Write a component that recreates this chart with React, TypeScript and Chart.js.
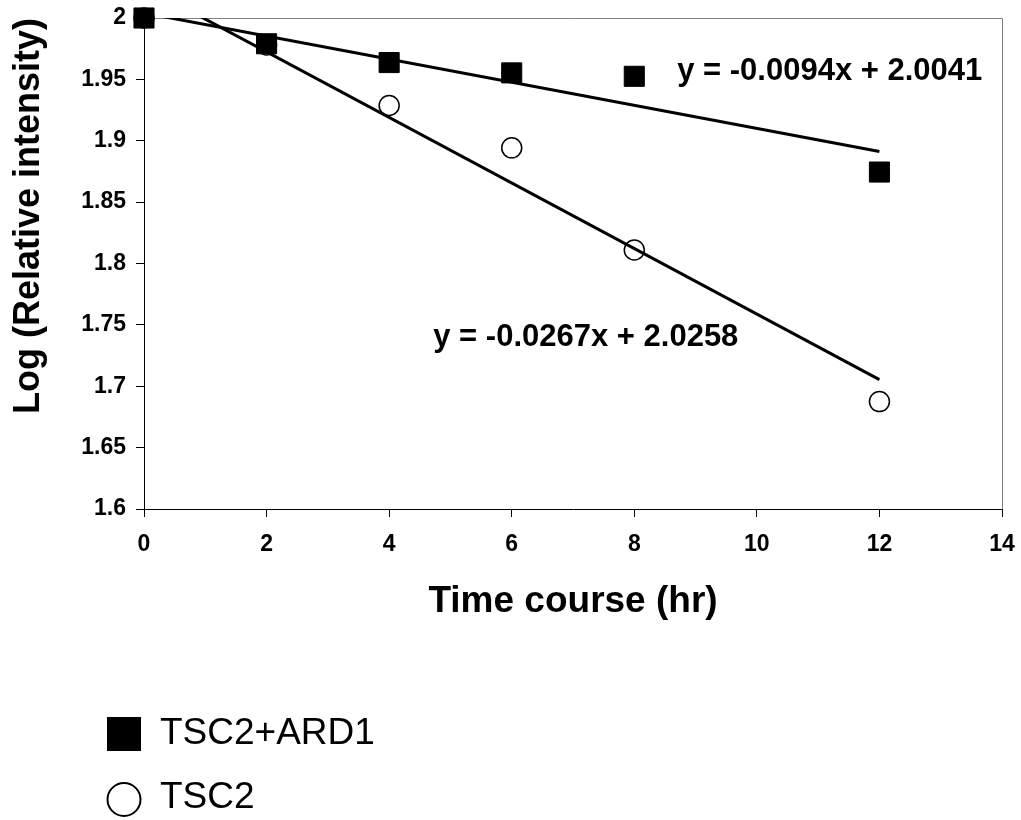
import React, { useEffect, useRef } from 'react';
import { Chart, registerables } from 'chart.js';

Chart.register(...registerables);

// ---- data ----
const hours = [0, 2, 4, 6, 8, 12];
const tsc2Ard1 = [2.0, 1.979, 1.9637, 1.9553, 1.9525, 1.8745];
const tsc2 = [2.0, 1.978, 1.9287, 1.8942, 1.811, 1.6875];
const trendHours = [0, 12];
const trendTsc2Ard1 = [2.0041, 1.8913];
const trendTsc2 = [2.0258, 1.7054];
const seriesNames = ['TSC2+ARD1', 'TSC2'];
const equations = ['y = -0.0094x + 2.0041', 'y = -0.0267x + 2.0258'];
const xTickValues = [0, 2, 4, 6, 8, 10, 12, 14];
const xTickLabels = ['0', '2', '4', '6', '8', '10', '12', '14'];
const yTickValues = [1.6, 1.65, 1.7, 1.75, 1.8, 1.85, 1.9, 1.95, 2];
const yTickLabels = ['1.6', '1.65', '1.7', '1.75', '1.8', '1.85', '1.9', '1.95', '2'];
const xTitle = 'Time course (hr)';
const yTitle = 'Log (Relative intensity)';

const FONT = '"Liberation Sans", Arial, Helvetica, sans-serif';

// equation label anchors (data coordinates, left/middle)
const eqAnchors = [
  { x: 8.7, y: 1.9564 },
  { x: 4.72, y: 1.7396 },
];

const decorPlugin = {
  id: 'decor',
  beforeDatasetsDraw(chart: any) {
    const { ctx, chartArea: a } = chart;
    ctx.save();
    ctx.strokeStyle = '#808080';
    ctx.lineWidth = 1;
    const top = Math.round(a.top) + 0.5;
    const right = Math.round(a.right) + 0.5;
    ctx.beginPath();
    ctx.moveTo(a.left, top);
    ctx.lineTo(right, top);
    ctx.moveTo(right, top);
    ctx.lineTo(right, a.bottom);
    ctx.stroke();
    ctx.restore();
  },
  afterDraw(chart: any) {
    const { ctx } = chart;
    const xs = chart.scales.x;
    const ys = chart.scales.y;
    ctx.save();
    ctx.fillStyle = '#000';
    ctx.textBaseline = 'middle';
    ctx.textAlign = 'left';
    ctx.font = `bold 31px ${FONT}`;
    equations.forEach((eq, i) => {
      ctx.fillText(eq, xs.getPixelForValue(eqAnchors[i].x), ys.getPixelForValue(eqAnchors[i].y));
    });
    // legend
    ctx.fillRect(107, 717, 34, 34);
    ctx.beginPath();
    ctx.lineWidth = 2;
    ctx.strokeStyle = '#000';
    ctx.arc(124, 799.5, 16.5, 0, Math.PI * 2);
    ctx.stroke();
    ctx.font = `37px ${FONT}`;
    ctx.fillText(seriesNames[0], 160, 734);
    ctx.fillText(seriesNames[1], 160, 798);
    ctx.restore();
  },
};

export default function App() {
  const ref = useRef<HTMLCanvasElement | null>(null);

  useEffect(() => {
    if (!ref.current) return;
    const chart = new Chart(ref.current, {
      type: 'scatter',
      data: {
        datasets: [
          {
            label: seriesNames[0],
            data: hours.map((h, i) => ({ x: h, y: tsc2Ard1[i] })),
            pointStyle: 'rect',
            pointRadius: 14.2,
            backgroundColor: '#000',
            borderColor: '#000',
            borderWidth: 1,
            clip: false,
          },
          {
            label: seriesNames[1],
            data: hours.map((h, i) => ({ x: h, y: tsc2[i] })),
            pointStyle: 'circle',
            pointRadius: 10,
            backgroundColor: 'rgba(0,0,0,0)',
            borderColor: '#000',
            borderWidth: 1.5,
            clip: false,
          },
          {
            label: 'trend1',
            data: trendHours.map((h, i) => ({ x: h, y: trendTsc2Ard1[i] })),
            showLine: true,
            pointRadius: 0,
            borderColor: '#000',
            borderWidth: 3,
          },
          {
            label: 'trend2',
            data: trendHours.map((h, i) => ({ x: h, y: trendTsc2[i] })),
            showLine: true,
            pointRadius: 0,
            borderColor: '#000',
            borderWidth: 3,
          },
        ],
      },
      options: {
        responsive: false,
        animation: false,
        events: [],
        layout: { padding: { top: 18, right: 19, bottom: 192, left: 0 } },
        plugins: {
          legend: { display: false },
          tooltip: { enabled: false },
        },
        scales: {
          x: {
            type: 'linear',
            min: 0,
            max: 14,
            afterBuildTicks: (s: any) => {
              s.ticks = xTickValues.map((v) => ({ value: v }));
            },
            afterFit: (s: any) => {
              s.height = 119;
              s.paddingLeft = 0;
              s.paddingRight = 0;
            },
            ticks: {
              callback: (_v: any, i: number) => xTickLabels[i],
              color: '#000',
              font: { family: FONT, size: 23, weight: 'bold' },
              padding: 14,
              maxRotation: 0,
              autoSkip: false,
            },
            grid: {
              drawOnChartArea: false,
              drawTicks: true,
              tickLength: 8,
              color: '#000',
              tickColor: '#000',
            },
            border: { display: true, color: '#000', width: 1 },
            title: {
              display: true,
              text: xTitle,
              color: '#000',
              font: { family: FONT, size: 37, weight: 'bold' },
              padding: { top: 0, bottom: 4 },
            },
          },
          y: {
            type: 'linear',
            min: 1.6,
            max: 2,
            afterBuildTicks: (s: any) => {
              s.ticks = yTickValues.map((v) => ({ value: v }));
            },
            afterFit: (s: any) => {
              s.width = 144;
              s.paddingTop = 0;
              s.paddingBottom = 0;
            },
            ticks: {
              callback: (_v: any, i: number) => yTickLabels[i],
              color: '#000',
              font: { family: FONT, size: 23, weight: 'bold' },
              padding: 10,
              autoSkip: false,
            },
            grid: {
              drawOnChartArea: false,
              drawTicks: true,
              tickLength: 8,
              color: '#000',
              tickColor: '#000',
            },
            border: { display: true, color: '#000', width: 1 },
            title: {
              display: true,
              text: yTitle,
              align: 'end',
              color: '#000',
              font: { family: FONT, size: 36, weight: 'bold' },
              padding: { top: 7, bottom: 0 },
            },
          },
        },
      },
      plugins: [decorPlugin],
    } as any);
    return () => chart.destroy();
  }, []);

  return (
    <div style={{ position: 'absolute', left: 0, top: 0, width: 1021, height: 820, background: '#fff' }}>
      <canvas ref={ref} width={1021} height={820} style={{ display: 'block' }} />
    </div>
  );
}
